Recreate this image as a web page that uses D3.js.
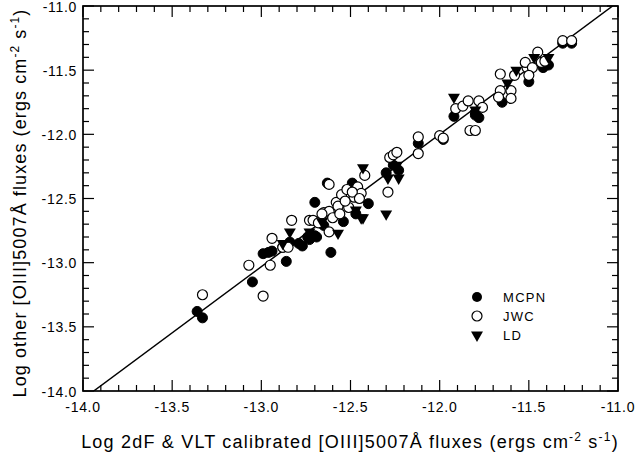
<!DOCTYPE html>
<html>
<head>
<meta charset="utf-8">
<script src="https://cdn.jsdelivr.net/npm/d3@7/dist/d3.min.js"></script>
<style>
  html, body { margin: 0; padding: 0; background: #fff; }
  svg { display: block; font-family: "Liberation Sans", Arial, sans-serif; }
</style>
</head>
<body>
<svg id="chart" width="636" height="459"></svg>
<script>
// ---------------- data ----------------
const xDomain = [-14, -11];
const yDomain = [-14, -11];
const majorTicks = [-14.0, -13.5, -13.0, -12.5, -12.0, -11.5, -11.0];
const tickLabels = ["-14.0", "-13.5", "-13.0", "-12.5", "-12.0", "-11.5", "-11.0"];

// fitted relation (end points of the drawn line)
const fitLine = [[-13.94, -14.0], [-11.03, -11.0]];

// MCPN (filled circles): [x, y]
const mcpn = [
  [-13.36,-13.38],[-13.33,-13.43],[-13.05,-13.15],[-12.99,-12.93],[-12.94,-12.91],
  [-12.86,-12.99],[-12.88,-12.88],[-12.84,-12.84],[-12.77,-12.87],[-12.73,-12.82],
  [-12.70,-12.79],[-12.74,-12.80],[-12.69,-12.80],[-12.61,-12.92],[-12.70,-12.53],
  [-12.63,-12.38],[-12.49,-12.38],[-12.65,-12.71],[-12.54,-12.68],[-12.40,-12.54],
  [-12.47,-12.62],[-12.30,-12.30],[-12.23,-12.28],[-12.26,-12.24],[-12.12,-12.07],
  [-11.98,-12.04],[-11.92,-11.86],[-11.80,-11.85],[-11.78,-11.87],[-11.65,-11.75],
  [-11.50,-11.59],[-11.42,-11.48],[-11.39,-11.46],[-11.31,-11.29],[-11.26,-11.29],
  [-12.96,-12.92],[-12.79,-12.85],[-11.80,-11.83]
];

// JWC (open circles)
const jwc = [
  [-13.33,-13.25],[-13.07,-13.02],[-12.99,-13.26],[-12.95,-13.02],[-12.94,-12.81],
  [-12.88,-12.88],[-12.85,-12.88],[-12.83,-12.67],[-12.73,-12.67],[-12.71,-12.67],
  [-12.65,-12.61],[-12.62,-12.60],[-12.58,-12.53],[-12.55,-12.47],[-12.52,-12.43],
  [-12.46,-12.41],[-12.51,-12.57],[-12.62,-12.39],[-12.42,-12.32],[-12.44,-12.46],
  [-12.48,-12.49],[-12.62,-12.76],[-12.29,-12.45],[-12.28,-12.18],[-12.26,-12.16],
  [-12.24,-12.14],[-12.12,-12.02],[-12.12,-12.15],[-12.00,-12.01],[-11.98,-12.03],
  [-11.91,-11.80],[-11.87,-11.78],[-11.84,-11.74],[-11.78,-11.74],[-11.76,-11.79],
  [-11.83,-11.97],[-11.80,-11.97],[-11.66,-11.66],[-11.66,-11.53],[-11.60,-11.66],
  [-11.60,-11.72],[-11.67,-11.71],[-11.58,-11.54],[-11.51,-11.48],[-11.52,-11.44],
  [-11.45,-11.36],[-11.43,-11.44],[-11.48,-11.48],[-11.50,-11.54],[-11.31,-11.27],
  [-11.26,-11.27],[-11.41,-11.43],[-12.68,-12.69],[-12.57,-12.56],[-12.53,-12.52],
  [-12.49,-12.45],[-12.45,-12.50],[-12.60,-12.65],[-12.66,-12.62],[-12.56,-12.62]
];

// LD (filled down-triangles)
const ld = [
  [-12.84,-12.76],[-12.88,-12.85],[-12.73,-12.76],[-12.66,-12.68],[-12.57,-12.77],
  [-12.44,-12.65],[-12.43,-12.26],[-12.30,-12.62],[-12.29,-12.34],[-12.23,-12.34],
  [-12.24,-12.24],[-11.92,-11.71],[-11.80,-11.81],[-11.62,-11.60],[-11.57,-11.50],
  [-11.47,-11.40],[-11.39,-11.40],[-12.47,-12.59],[-12.43,-12.65]
];

const legendItems = ["MCPN", "JWC", "LD"];

// ---------------- layout ----------------
const svg = d3.select("#chart");
const pL = 83, pR = 618, pT = 6, pB = 391;
const x = d3.scaleLinear().domain(xDomain).range([pL, pR]);
const y = d3.scaleLinear().domain(yDomain).range([pB, pT]);

const minorTicks = d3.range(-140, -109, 1).map(v => v / 10);
const majorLen = 11, minorLen = 6;
const R = 5;

// fit line (clipped)
svg.append("clipPath").attr("id", "clip")
  .append("rect").attr("x", pL).attr("y", pT).attr("width", pR - pL).attr("height", pB - pT);

svg.append("line")
  .attr("clip-path", "url(#clip)")
  .attr("x1", x(fitLine[0][0])).attr("y1", y(fitLine[0][1]))
  .attr("x2", x(fitLine[1][0])).attr("y2", y(fitLine[1][1]))
  .attr("stroke", "#000").attr("stroke-width", 1.5);

// points
const g = svg.append("g");
g.selectAll("circle.mcpn").data(mcpn).join("circle")
  .attr("class", "mcpn")
  .attr("cx", d => x(d[0])).attr("cy", d => y(d[1])).attr("r", R)
  .attr("fill", "#000").attr("stroke", "#000").attr("stroke-width", 1);

g.selectAll("circle.jwc").data(jwc).join("circle")
  .attr("class", "jwc")
  .attr("cx", d => x(d[0])).attr("cy", d => y(d[1])).attr("r", R)
  .attr("fill", "#fff").attr("stroke", "#000").attr("stroke-width", 1.2);

const tri = d3.symbol().type(d3.symbolTriangle).size(62);
g.selectAll("path.ld").data(ld).join("path")
  .attr("class", "ld")
  .attr("d", tri)
  .attr("transform", d => `translate(${x(d[0])},${y(d[1])}) rotate(180)`)
  .attr("fill", "#000");

// frame
svg.append("rect")
  .attr("x", pL).attr("y", pT).attr("width", pR - pL).attr("height", pB - pT)
  .attr("fill", "none").attr("stroke", "#000").attr("stroke-width", 1.7);

// axes with inward ticks on all sides
function isMajor(v) { return Math.abs(v * 2 - Math.round(v * 2)) < 1e-6; }
const tickG = svg.append("g").attr("stroke", "#000").attr("stroke-width", 1.2);
minorTicks.forEach(v => {
  const len = isMajor(v) ? majorLen : minorLen;
  const px = x(v), py = y(v);
  tickG.append("line").attr("x1", px).attr("x2", px).attr("y1", pB).attr("y2", pB - len);
  tickG.append("line").attr("x1", px).attr("x2", px).attr("y1", pT).attr("y2", pT + len);
  tickG.append("line").attr("y1", py).attr("y2", py).attr("x1", pL).attr("x2", pL + len);
  tickG.append("line").attr("y1", py).attr("y2", py).attr("x1", pR).attr("x2", pR - len);
});

// tick labels
const labelFont = 14;
svg.append("g").selectAll("text").data(majorTicks).join("text")
  .attr("x", d => x(d)).attr("y", pB + 21)
  .attr("text-anchor", "middle")
  .attr("font-size", labelFont).attr("letter-spacing", 0.7)
  .text((d, i) => tickLabels[i]);

svg.append("g").selectAll("text").data(majorTicks).join("text")
  .attr("x", pL - 6).attr("y", d => y(d) + 5.5)
  .attr("text-anchor", "end")
  .attr("font-size", labelFont).attr("letter-spacing", 0.7)
  .text((d, i) => tickLabels[i]);

// axis titles
function title(sel, parts) {
  parts.forEach(p => {
    const ts = sel.append("tspan").text(p.t);
    if (p.sup) ts.attr("font-size", 12).attr("dy", -7);
    if (p.down) ts.attr("dy", 7);
  });
}
const xt = svg.append("text")
  .attr("x", 350).attr("y", 448).attr("text-anchor", "middle")
  .attr("font-size", 18).attr("letter-spacing", 1.2);
title(xt, [
  {t: "Log 2dF & VLT calibrated [OIII]5007Å fluxes (ergs cm"},
  {t: "-2", sup: true},
  {t: " s", down: true},
  {t: "-1", sup: true},
  {t: ")", down: true}
]);

const yt = svg.append("text")
  .attr("transform", "translate(26,203) rotate(-90)")
  .attr("text-anchor", "middle")
  .attr("font-size", 18).attr("letter-spacing", 1.1);
title(yt, [
  {t: "Log other [OIII]5007Å fluxes (ergs cm"},
  {t: "-2", sup: true},
  {t: " s", down: true},
  {t: "-1", sup: true},
  {t: ")", down: true}
]);

// legend
const legX = 477, legY0 = 297, legDy = 19;
const lg = svg.append("g");
legendItems.forEach((name, i) => {
  const cy = legY0 + i * legDy;
  if (i === 0) lg.append("circle").attr("cx", legX).attr("cy", cy).attr("r", R).attr("fill", "#000");
  if (i === 1) lg.append("circle").attr("cx", legX).attr("cy", cy).attr("r", R).attr("fill", "#fff").attr("stroke", "#000").attr("stroke-width", 1.2);
  if (i === 2) lg.append("path").attr("d", tri).attr("transform", `translate(${legX},${cy}) rotate(180)`).attr("fill", "#000");
  lg.append("text").attr("x", 503).attr("y", cy + 5)
    .attr("font-size", 13).attr("letter-spacing", 1.3).text(name);
});
</script>
</body>
</html>
